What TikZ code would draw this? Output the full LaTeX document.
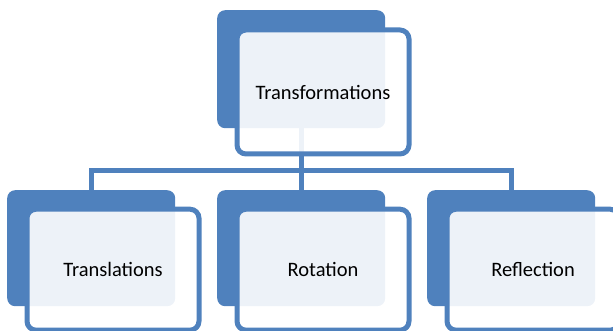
\documentclass[tikz,border=0pt]{standalone}
\usepackage{fontspec}
\setmainfont{Carlito}
\usetikzlibrary{backgrounds}
\definecolor{boxblue}{RGB}{79,129,189}
\begin{document}
\begin{tikzpicture}[x=1pt,y=1pt,yscale=-1,xscale=1,
  backbox/.style={rectangle,rounded corners=8,fill=boxblue,minimum width=168,minimum height=116,anchor=north west,inner sep=0},
  frontbox/.style={rectangle,rounded corners=9,draw=boxblue,line width=5,fill=white,fill opacity=0.9,text opacity=1,
    minimum width=172,minimum height=121,anchor=north west,font=\fontsize{20.5}{24}\selectfont},
  link/.style={draw=boxblue,line width=5}]
\useasboundingbox (0,0) rectangle (613,331);

%Back Shapes
\node[backbox,minimum height=118] (topb) at (217,10) {};
\node[backbox] (transb) at (7,190) {};
\node[backbox] (rotb) at (217,190) {};
\node[backbox] (reflb) at (427,190) {};

%Front Shapes
\node[frontbox,minimum height=124] (topf) at ([shift={(17.5,17.5)}]topb.north west) {Transformations};
\node[frontbox] (transf) at ([shift={(17.5,16.7)}]transb.north west) {Translations};
\node[frontbox] (rotf) at ([shift={(17.5,16.7)}]rotb.north west) {Rotation};
\node[frontbox] (reflf) at ([shift={(17.5,16.7)}]reflb.north west) {Reflection};

%Connectors
\begin{scope}[on background layer]
\draw[link] (topb.south) -- ++(0,42) -| (transb.north);
\draw[link] (topb.south) -- (rotb.north);
\draw[link] (topb.south) -- ++(0,42) -| (reflb.north);
\end{scope}

\end{tikzpicture}
\end{document}
